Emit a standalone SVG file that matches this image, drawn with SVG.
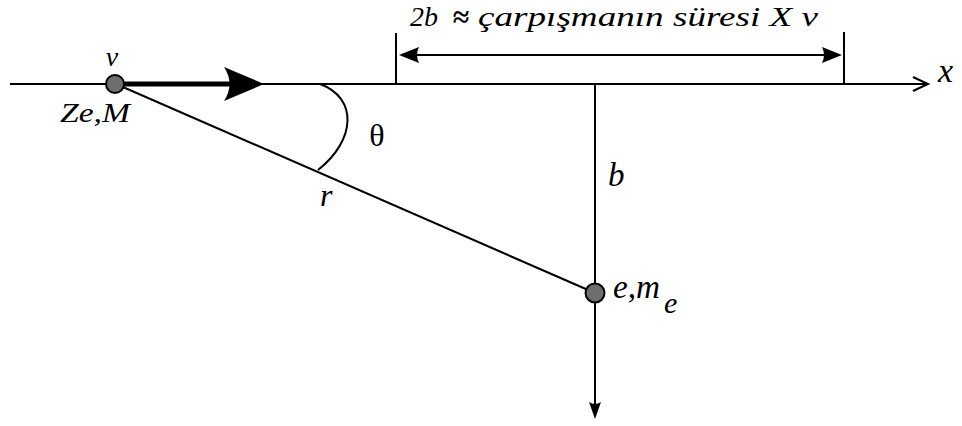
<svg xmlns="http://www.w3.org/2000/svg" width="962" height="426" viewBox="0 0 962 426">
<style>
.ln{stroke:#000;stroke-width:2;fill:none}
.t{font-family:'Liberation Serif','Times New Roman',serif;font-style:italic;fill:#000}
.u{font-family:'Liberation Serif','Times New Roman',serif;fill:#000}
.p{fill:#6e6e6e;stroke:#000;stroke-width:2}
</style>
<rect width="962" height="426" fill="#fff"/>
<g id="connectors">
  <line class="ln" x1="10" y1="84" x2="927" y2="84"/>
  <polyline class="ln" points="913,77 928,84 913,91"/>
  <line class="ln" x1="116" y1="84" x2="595" y2="293"/>
  <line class="ln" x1="595" y1="84" x2="595" y2="405"/>
  <path d="M595,419 L589,402 Q595,406 601,402 Z" fill="#000"/>
  <line x1="116" y1="84" x2="232" y2="84" stroke="#000" stroke-width="5"/>
  <path d="M264,84 L224,67 Q235,84 224,101 Z" fill="#000"/>
  <path class="ln" d="M320,84 C358,98 356,140 318,170"/>
</g>
<g id="dimension">
  <line class="ln" x1="396" y1="33" x2="396" y2="84"/>
  <line class="ln" x1="844" y1="32" x2="844" y2="84"/>
  <line class="ln" x1="410" y1="55" x2="832" y2="55"/>
  <path d="M399,55 L419,47 Q415,55 419,63 Z" fill="#000"/>
  <path d="M842,55 L822,47 Q826,55 822,63 Z" fill="#000"/>
  <text class="t" x="410" y="26" font-size="28" textLength="28" lengthAdjust="spacingAndGlyphs">2b</text>
  <text class="u" x="461" y="27" font-size="30" font-weight="bold" text-anchor="middle">≈</text>
  <text class="t" x="478" y="26" font-size="28" textLength="340" lengthAdjust="spacingAndGlyphs">çarpışmanın süresi X v</text>
</g>
<g id="particle">
  <circle class="p" cx="115" cy="84" r="9"/>
  <text class="t" x="112" y="66" font-size="28" text-anchor="middle">v</text>
  <text class="t" x="60" y="122" font-size="28" textLength="70" lengthAdjust="spacingAndGlyphs">Ze,M</text>
</g>
<g id="electron">
  <circle class="p" cx="595" cy="293" r="9.5"/>
  <text class="t" x="613" y="298" font-size="33" textLength="47" lengthAdjust="spacingAndGlyphs">e,m</text>
  <text class="t" x="664" y="313" font-size="30">e</text>
</g>
<g id="labels">
  <text class="u" x="377" y="146" font-size="32" text-anchor="middle">θ</text>
  <text class="t" x="320" y="206" font-size="32">r</text>
  <text class="t" x="608" y="186" font-size="33">b</text>
  <text class="t" x="938" y="82" font-size="34">x</text>
</g>
</svg>
